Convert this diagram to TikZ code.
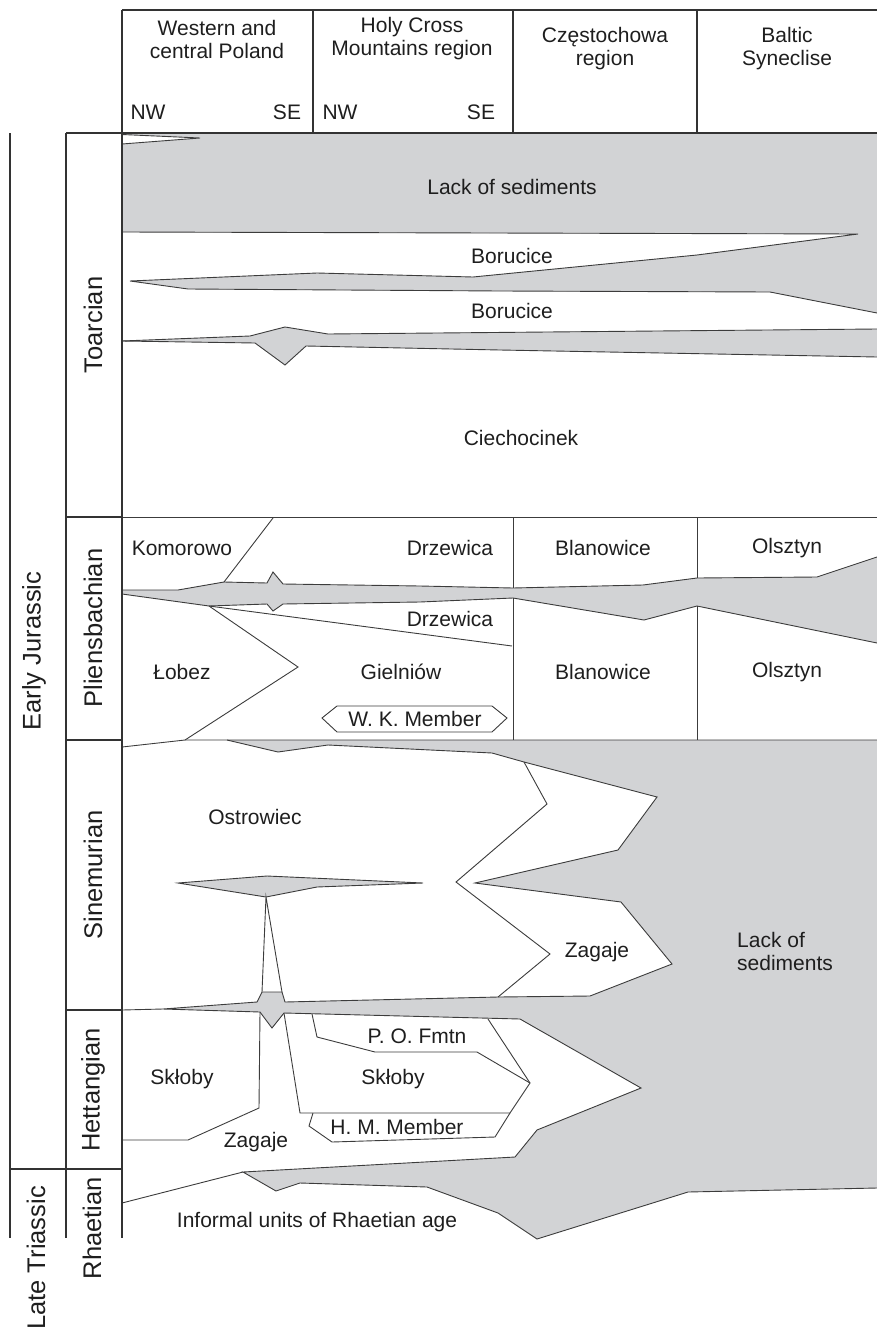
\documentclass[tikz,border=0pt]{standalone}
\usepackage{fontspec}
\setmainfont{Liberation Sans}
\usepackage{tikz}
\definecolor{gapgrey}{HTML}{D2D3D5}
\definecolor{linegrey}{HTML}{3C3C3C}
\definecolor{framegrey}{HTML}{333333}
\definecolor{inktext}{HTML}{1E1E1E}

\begin{document}
\begin{tikzpicture}[x=1pt, y=-1pt,
    hiatus/.style={fill=gapgrey},
    contact/.style={draw=linegrey, line width=0.9pt, line join=miter},
    frame/.style={draw=framegrey, line width=1.8pt},
    headline/.style={draw=framegrey, line width=1.3pt},
    unitlabel/.style={font=\fontsize{21}{23}\selectfont, align=center, inner sep=0pt, text=inktext},
    agelabel/.style={font=\fontsize{25.5}{30}\selectfont, rotate=90, inner sep=0pt, text=inktext}
]
\useasboundingbox (0,0) rectangle (877,1330);

% Toarcian gaps
\fill[hiatus] (122,133) -- (877,133) -- (877,313) -- (770,292) -- (500,291) -- (188,289) -- (130,281)
    -- (317,273) -- (473,277) -- (697,255) -- (858,234) -- (122,232) -- cycle;
\draw[contact] (122,232) -- (858,234) -- (697,255) -- (473,277) -- (317,273) -- (130,281)
    -- (188,289) -- (500,291) -- (770,292) -- (877,313);
\fill[white] (122,134.5) -- (200,138) -- (122,144) -- cycle;
\draw[contact] (122,134.5) -- (200,138) -- (122,144);
\fill[hiatus] (122,341) -- (250,336) -- (285,327) -- (328,334) -- (877,329) -- (877,357)
    -- (500,350) -- (306,346) -- (285,365) -- (255,343) -- cycle;
\draw[contact] (122,341) -- (250,336) -- (285,327) -- (328,334) -- (877,329);
\draw[contact] (122,341) -- (255,343) -- (285,365) -- (306,346) -- (500,350) -- (877,357);

% Pliensbachian gap
\fill[hiatus] (122,590) -- (178,590) -- (224,582) -- (267,583) -- (273,572) -- (283,584) -- (420,586)
    -- (513,588) -- (643,585) -- (697,578) -- (817,577) -- (877,557) -- (877,643) -- (697,606)
    -- (644,620) -- (513,598) -- (420,602) -- (283,604) -- (273,611) -- (267,604) -- (209,606)
    -- (122,594) -- cycle;
\draw[contact] (122,590) -- (178,590) -- (224,582) -- (267,583) -- (273,572) -- (283,584) -- (420,586)
    -- (513,588) -- (643,585) -- (697,578) -- (817,577) -- (877,557);
\draw[contact] (122,594) -- (209,606) -- (267,604) -- (273,611) -- (283,604) -- (420,602)
    -- (513,598) -- (644,620) -- (697,606) -- (877,643);

% Sinemurian to Rhaetian gap
\fill[hiatus] (227,740) -- (877,740) -- (877,1188) -- (688,1192) -- (537,1239) -- (498,1213)
    -- (427,1187) -- (300,1183) -- (276,1191) -- (243,1172) -- (515,1157) -- (537,1130)
    -- (641,1088) -- (520,1019) -- (284,1013) -- (272,1028) -- (260,1012) -- (163,1009)
    -- (257,1002) -- (262,992) -- (282,992) -- (285,1002) -- (498,997) -- (590,996)
    -- (672,964) -- (621,902) -- (475,883) -- (618,850) -- (657,797) -- (524,762)
    -- (492,753) -- (328,745) -- (278,752) -- cycle;
\draw[contact] (877,1188) -- (688,1192) -- (537,1239) -- (498,1213)
    -- (427,1187) -- (300,1183) -- (276,1191) -- (243,1172) -- (515,1157) -- (537,1130)
    -- (641,1088) -- (520,1019) -- (284,1013) -- (272,1028) -- (260,1012) -- (163,1009)
    -- (257,1002) -- (262,992) -- (282,992) -- (285,1002) -- (498,997) -- (590,996)
    -- (672,964) -- (621,902) -- (475,883) -- (618,850) -- (657,797) -- (524,762)
    -- (492,753) -- (328,745) -- (278,752) -- (227,740);
\filldraw[hiatus, contact] (178,883) -- (267,876) -- (423,883) -- (317,887) -- (266,897) -- cycle;

% Formation boundaries
\draw[contact] (122,517) -- (877,517);
\draw[contact] (513,517) -- (513,588) (513,598) -- (513,740);
\draw[contact] (697,517) -- (697,578) (697,606) -- (697,740);
\draw[contact] (273,518) -- (224,582);
\draw[contact] (209,606) -- (512,646);
\draw[contact] (209,606) -- (298,667) -- (185,740);
\draw[contact] (122,747) -- (185,740) -- (877,740);
\draw[contact] (322,718) -- (337,706) -- (492,706) -- (507,718) -- (492,732) -- (337,732) -- cycle;
\draw[contact] (524,762) -- (547,804) -- (456,882) -- (550,954) -- (498,997);
\draw[contact] (262,992) -- (266,897) -- (282,992);
\draw[contact] (122,1010) -- (163,1009);
\draw[contact] (260,1012) -- (259,1108) -- (188,1140) -- (122,1140);
\draw[contact] (284,1013) -- (300,1113) -- (510,1113) -- (530,1083) -- (488,1019);
\draw[contact] (312,1014) -- (317,1037) -- (375,1052) -- (477,1052) -- (530,1083);
\draw[contact] (313,1113) -- (309,1126) -- (332,1142) -- (495,1137) -- (510,1113);
\draw[contact] (122,1203) -- (243,1172);

% Frame
\draw[headline] (122,10) -- (877,10);
\draw[headline] (313,10) -- (313,133) (513,10) -- (513,133) (697,10) -- (697,133);
\draw[frame] (66,133) -- (877,133);
\draw[frame] (122,10) -- (122,1238);
\draw[frame] (66,133) -- (66,1238);
\draw[frame] (10,133) -- (10,1238);
\draw[frame] (66,517) -- (122,517) (66,740) -- (122,740) (66,1010) -- (122,1010) (10,1169) -- (122,1169);

% Header
\node[unitlabel] (hwest) at (217,39) {Western and\\central Poland};
\node[unitlabel] (hholy) at (412,39) {Holy Cross\\Mountains region};
\node[unitlabel] (hczest) at (605,49) {Częstochowa\\region};
\node[unitlabel] (hbaltic) at (787,49) {Baltic\\Syneclise};
\node[unitlabel] (hnwa) at (148,112) {NW};
\node[unitlabel] (hsea) at (287,112) {SE};
\node[unitlabel] (hnwb) at (340,112) {NW};
\node[unitlabel] (hseb) at (481,112) {SE};

% Time scale
\node[agelabel] (early) at (34,651) {Early Jurassic};
\node[agelabel] (late) at (36,1258) {Late Triassic};
\node[agelabel] (toarc) at (93,325) {Toarcian};
\node[agelabel] (pliens) at (93,628) {Pliensbachian};
\node[agelabel] (sinem) at (93,875) {Sinemurian};
\node[agelabel] (hett) at (93,1090) {Hettangian};
\node[agelabel] (rhaet) at (92,1228) {Rhaetian};

% Units
\node[unitlabel] (lacka) at (512,187) {Lack of sediments};
\node[unitlabel] (borua) at (512,256) {Borucice};
\node[unitlabel] (borub) at (512,311) {Borucice};
\node[unitlabel] (ciech) at (521,438) {Ciechocinek};
\node[unitlabel] (komor) at (182,548) {Komorowo};
\node[unitlabel] (drzea) at (450,548) {Drzewica};
\node[unitlabel] (blana) at (603,548) {Blanowice};
\node[unitlabel] (olsza) at (787,548) {Olsztyn};
\node[unitlabel] (drzeb) at (450,619) {Drzewica};
\node[unitlabel] (lobez) at (182,672) {Łobez};
\node[unitlabel] (gieln) at (401,672) {Gielniów};
\node[unitlabel] (blanb) at (603,672) {Blanowice};
\node[unitlabel] (olszb) at (787,672) {Olsztyn};
\node[unitlabel] (wkmem) at (415,719) {W. K. Member};
\node[unitlabel] (ostro) at (255,817) {Ostrowiec};
\node[unitlabel] (zaga) at (597,952) {Zagaje};
\node[unitlabel, anchor=west, align=left] (lackb) at (737,951) {Lack of\\sediments};
\node[unitlabel] (pofmt) at (417,1036) {P. O. Fmtn};
\node[unitlabel] (skloa) at (182,1079) {Skłoby};
\node[unitlabel] (sklob) at (393,1079) {Skłoby};
\node[unitlabel] (hmmem) at (397,1127) {H. M. Member};
\node[unitlabel] (zagb) at (256,1142) {Zagaje};
\node[unitlabel] (rhinf) at (317,1222) {Informal units of Rhaetian age};

\end{tikzpicture}
\end{document}
